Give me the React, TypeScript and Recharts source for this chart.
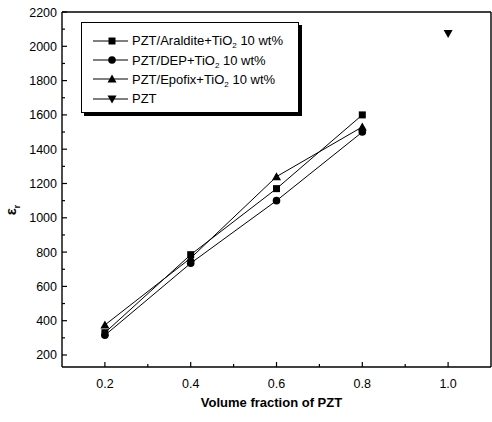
import React from 'react';
import { LineChart, Line, XAxis, YAxis, Legend, ReferenceLine } from 'recharts';

const volumeFractions = [0.2, 0.4, 0.6, 0.8, 1.0];
const araldite = [330, 785, 1170, 1600, null];
const dep = [315, 735, 1100, 1500, null];
const epofix = [375, 765, 1240, 1530, null];
const pztOnly = [null, null, null, null, 2075];

const seriesKeys = ['araldite', 'dep', 'epofix', 'pzt'];
const seriesNames = [
  'PZT/Araldite+TiO2 10 wt%',
  'PZT/DEP+TiO2 10 wt%',
  'PZT/Epofix+TiO2 10 wt%',
  'PZT',
];
const seriesMarkers = ['square', 'circle', 'triangleUp', 'triangleDown'];

const xTicks = [0.2, 0.3, 0.4, 0.5, 0.6, 0.7, 0.8, 0.9, 1.0];
const yTicks = [200, 300, 400, 500, 600, 700, 800, 900, 1000, 1100, 1200, 1300, 1400, 1500, 1600, 1700, 1800, 1900, 2000, 2100, 2200];

const xAxisTitle = 'Volume fraction of PZT';

const data = volumeFractions.map((x, i) => ({
  x,
  araldite: araldite[i],
  dep: dep[i],
  epofix: epofix[i],
  pzt: pztOnly[i],
}));

const FONT = '"Liberation Sans", Arial, Helvetica, sans-serif';

function Marker({ kind, cx, cy }: { kind: string; cx: number; cy: number }) {
  if (kind === 'square') return <rect x={cx - 3.5} y={cy - 3.5} width={7} height={7} fill="#000" />;
  if (kind === 'circle') return <circle cx={cx} cy={cy} r={3.8} fill="#000" />;
  if (kind === 'triangleUp')
    return <polygon points={`${cx},${cy - 4.5} ${cx + 4.5},${cy + 3.5} ${cx - 4.5},${cy + 3.5}`} fill="#000" />;
  return <polygon points={`${cx},${cy + 4.5} ${cx + 4.5},${cy - 3.5} ${cx - 4.5},${cy - 3.5}`} fill="#000" />;
}

const makeDot = (kind: string) => (props: any) => {
  const { cx, cy, index, value } = props;
  if (cx == null || cy == null || value == null) return <g key={`d-${kind}-${index}`} />;
  return (
    <g key={`d-${kind}-${index}`}>
      <Marker kind={kind} cx={cx} cy={cy} />
    </g>
  );
};

const YTick = (props: any) => {
  const { x, y, payload } = props;
  const major = payload.value % 200 === 0;
  return (
    <g>
      <line x1={x} x2={x + (major ? 5 : 3)} y1={y} y2={y} stroke="#000" strokeWidth={1.2} />
      {major && (
        <text x={x - 5} y={y} dy="0.36em" textAnchor="end" fontSize={12.5} fontFamily={FONT} fill="#000">
          {payload.value}
        </text>
      )}
    </g>
  );
};

const XTick = (props: any) => {
  const { x, y, payload } = props;
  const major = Math.round(payload.value * 10) % 2 === 0;
  return (
    <g>
      <line x1={x} x2={x} y1={y} y2={y - (major ? 5 : 3)} stroke="#000" strokeWidth={1.2} />
      {major && (
        <text x={x} y={y + 16} dy="0.36em" textAnchor="middle" fontSize={12.5} fontFamily={FONT} fill="#000">
          {payload.value.toFixed(1)}
        </text>
      )}
    </g>
  );
};

function renderName(name: string) {
  const idx = name.indexOf('TiO2');
  if (idx < 0) return name;
  return (
    <>
      {name.slice(0, idx)}TiO<sub style={{ fontSize: 8, verticalAlign: -3, lineHeight: 0 }}>2</sub>
      {name.slice(idx + 4)}
    </>
  );
}

const LegendBox = (props: any) => {
  const payload = [...(props.payload || [])].sort(
    (a: any, b: any) => seriesKeys.indexOf(a.dataKey) - seriesKeys.indexOf(b.dataKey)
  );
  return (
    <div
      style={{
        border: '1px solid #000',
        boxShadow: '3px 3px 0 #000',
        background: '#fff',
        width: 218,
        height: 91,
        boxSizing: 'border-box',
        paddingTop: 8,
        fontFamily: FONT,
        fontSize: 13,
        color: '#000',
      }}
    >
      {payload.map((entry: any, i: number) => {
        const k = seriesKeys.indexOf(entry.dataKey);
        return (
          <div key={i} style={{ height: 19.4, display: 'flex', alignItems: 'center', whiteSpace: 'nowrap' }}>
            <svg width={39} height={12} style={{ marginLeft: 11, flex: 'none' }}>
              <line x1={0} x2={35} y1={6} y2={6} stroke="#000" strokeWidth={1.2} />
              <Marker kind={seriesMarkers[k]} cx={19} cy={6} />
            </svg>
            <span>{renderName(seriesNames[k])}</span>
          </div>
        );
      })}
    </div>
  );
};

const XLabel = (props: any) => {
  const vb = props.viewBox || { x: 62, y: 367, width: 429, height: 55 };
  return (
    <text
      x={vb.x + vb.width / 2 - 5}
      y={vb.y + 35}
      dy="0.36em"
      textAnchor="middle"
      fontSize={13}
      fontWeight="bold"
      fontFamily={FONT}
      fill="#000"
    >
      {xAxisTitle}
    </text>
  );
};

const YLabel = () => {
  return (
    <text
      transform="translate(16,210) rotate(-90)"
      textAnchor="middle"
      fontSize={15}
      fontWeight="bold"
      fontFamily={FONT}
      fill="#000"
    >
      ε<tspan fontSize={9} dy={4}>r</tspan>
    </text>
  );
};

export default function App() {
  return (
    <div style={{ position: 'absolute', left: 0, top: 0, width: 492, height: 422, background: '#fff' }}>
      <LineChart width={492} height={422} data={data} margin={{ top: 12, right: 1, left: 0, bottom: 0 }}>
        <XAxis
          dataKey="x"
          type="number"
          domain={[0.1, 1.1]}
          ticks={xTicks}
          interval={0}
          height={55}
          tickLine={false}
          tickSize={0}
          tickMargin={0}
          tick={<XTick />}
          axisLine={{ stroke: '#000', strokeWidth: 1.4 }}
          label={<XLabel />}
        />
        <YAxis
          type="number"
          domain={[130, 2200]}
          ticks={yTicks}
          interval={0}
          width={62}
          tickLine={false}
          tickSize={0}
          tickMargin={0}
          tick={<YTick />}
          axisLine={{ stroke: '#000', strokeWidth: 1.4 }}
          label={<YLabel />}
        />
        <ReferenceLine y={2200} stroke="#000" strokeWidth={1.4} />
        <ReferenceLine x={1.1} stroke="#000" strokeWidth={1.4} />
        <Line dataKey="araldite" name={seriesNames[0]} stroke="#000" strokeWidth={1} dot={makeDot('square')} isAnimationActive={false} />
        <Line dataKey="dep" name={seriesNames[1]} stroke="#000" strokeWidth={1} dot={makeDot('circle')} isAnimationActive={false} />
        <Line dataKey="epofix" name={seriesNames[2]} stroke="#000" strokeWidth={1} dot={makeDot('triangleUp')} isAnimationActive={false} />
        <Line dataKey="pzt" name={seriesNames[3]} stroke="#000" strokeWidth={1} dot={makeDot('triangleDown')} isAnimationActive={false} />
        <Legend
          layout="vertical"
          align="center"
          verticalAlign="middle"
          itemSorter={null as any}
          content={<LegendBox />}
          wrapperStyle={{ left: 81, top: 22, width: 218, height: 91 }}
        />
      </LineChart>
    </div>
  );
}
